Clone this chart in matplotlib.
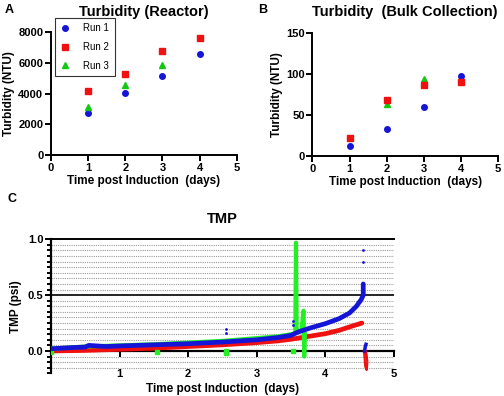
import numpy as np
import matplotlib
matplotlib.use("Agg")
import matplotlib.pyplot as plt
from matplotlib.ticker import MultipleLocator

plt.rcParams['font.family'] = ['Liberation Sans', 'DejaVu Sans']
plt.rcParams['font.weight'] = 'bold'

# --- panel A: reactor turbidity (NTU)
days = [1, 2, 3, 4]
reactor_run1 = [2720, 4020, 5170, 6610]
reactor_run2 = [4170, 5260, 6780, 7650]
reactor_run3 = [3110, 4560, 5850]

# --- panel B: bulk collection turbidity (NTU)
bulk_run1 = [11.8, 33, 59.5, 97.8]
bulk_run2 = [22, 68.5, 86.4, 89.7]
bulk_days3 = [2, 3]
bulk_run3 = [63.2, 93.8]

# --- panel C: TMP (psi)
blue_t = [0.0, 0.3, 0.5, 0.55, 0.8, 1.0, 1.5, 2.0, 2.5, 3.0, 3.3, 3.5, 3.6, 3.8,
          4.0, 4.2, 4.35, 4.45, 4.52, 4.55, 4.55]
blue_v = [0.02, 0.03, 0.035, 0.05, 0.04, 0.045, 0.055, 0.065, 0.08, 0.10, 0.12,
          0.14, 0.17, 0.21, 0.245, 0.29, 0.34, 0.40, 0.46, 0.50, 0.60]
blue_tail_t = [4.57, 4.58, 4.59]
blue_tail_v = [0.0, 0.04, 0.06]
blue_dots_t = [4.55, 4.55, 2.55, 2.55, 3.53, 3.53]
blue_dots_v = [0.90, 0.80, 0.20, 0.16, 0.27, 0.23]

red_t = [0.0, 0.5, 1.0, 1.5, 2.0, 2.5, 3.0, 3.3, 3.5, 3.7, 4.0, 4.2, 4.4, 4.53]
red_v = [0.0, 0.005, 0.015, 0.025, 0.04, 0.055, 0.075, 0.09, 0.105, 0.125, 0.155,
         0.185, 0.225, 0.25]
red_loop_t = [4.56, 4.57, 4.58, 4.60, 4.61, 4.60, 4.59]
red_loop_v = [0.0, -0.06, -0.14, -0.17, -0.10, -0.04, 0.0]

green_t = [0.0, 0.5, 1.0, 1.5, 2.0, 2.5, 3.0, 3.3, 3.5, 3.56, 3.57, 3.58, 3.6,
           3.65, 3.68, 3.69, 3.70]
green_v = [0.02, 0.04, 0.05, 0.06, 0.075, 0.09, 0.115, 0.13, 0.15, 0.16, 0.97,
           0.20, 0.17, 0.18, 0.36, -0.05, 0.15]
green_dots_t = [2.55, 2.55, 1.55, 0.0, 3.53]
green_dots_v = [-0.02, 0.0, -0.01, -0.01, 0.0]

blue = '#1515d8'
red = '#f01010'
green = '#12c812'
lime = '#22f022'

fig = plt.figure(figsize=(5.04, 3.96), dpi=100)


def style_axes(ax):
    for s in ['top', 'right']:
        ax.spines[s].set_visible(False)
    for s in ['left', 'bottom']:
        ax.spines[s].set_linewidth(1.4)
    ax.tick_params(width=1.4, length=4, labelsize=8, pad=1.5)
    for lab in ax.get_xticklabels() + ax.get_yticklabels():
        lab.set_fontweight('bold')


# Panel A
axA = fig.add_axes([0.101, 0.6086, 0.369, 0.310])
axA.plot(days, reactor_run1, 'o', color=blue, ms=4, label='Run 1', clip_on=False)
axA.plot(days, reactor_run2, 's', color=red, ms=4.5, label='Run 2', clip_on=False)
axA.plot(days[:3], reactor_run3, '^', color=green, ms=4.5, label='Run 3', clip_on=False)
axA.set_xlim(0, 5)
axA.set_ylim(0, 8000)
axA.set_xticks([0, 1, 2, 3, 4, 5])
axA.set_yticks([0, 2000, 4000, 6000, 8000])
style_axes(axA)
axA.set_title('Turbidity (Reactor)', fontsize=10.5, fontweight='bold', pad=12)
axA.set_xlabel('Time post Induction  (days)', fontsize=8.5, fontweight='bold', labelpad=2)
axA.set_ylabel('Turbidity (NTU)', fontsize=8.5, fontweight='bold', labelpad=2)
leg = axA.legend(loc='upper left', bbox_to_anchor=(0.02, 1.117), borderaxespad=0,
                 prop={'weight': 'normal', 'size': 7}, frameon=True, fancybox=False,
                 borderpad=0.55, labelspacing=0.9, handlelength=1.0, handletextpad=1.4)
leg.get_frame().set_edgecolor('black')
leg.get_frame().set_linewidth(0.8)

# Panel B
axB = fig.add_axes([0.620, 0.606, 0.368, 0.311])
axB.plot(days, bulk_run1, 'o', color=blue, ms=4, clip_on=False)
axB.plot(bulk_days3, bulk_run3, '^', color=green, ms=4.5, clip_on=False)
axB.plot(days, bulk_run2, 's', color=red, ms=4.5, clip_on=False)
axB.set_xlim(0, 5)
axB.set_ylim(0, 150)
axB.set_xticks([0, 1, 2, 3, 4, 5])
axB.set_yticks([0, 50, 100, 150])
style_axes(axB)
axB.set_title('Turbidity  (Bulk Collection)', fontsize=10.5, fontweight='bold', pad=12)
axB.set_xlabel('Time post Induction  (days)', fontsize=8.5, fontweight='bold', labelpad=2)
axB.set_ylabel('Turbidity (NTU)', fontsize=8.5, fontweight='bold', labelpad=2)

# Panel C
axC = fig.add_axes([0.101, 0.0573, 0.681, 0.3384])
axC.set_xlim(0, 5)
axC.set_ylim(-0.2, 1.0)
for yv in np.arange(-0.15, 1.0, 0.05):
    if abs(yv) < 1e-6 or abs(yv - 0.5) < 1e-6:
        continue
    axC.axhline(yv, color='#9a9a9a', lw=0.8, ls=(0, (1, 1)), zorder=0)
axC.axhline(0.5, color='black', lw=1.2, zorder=1)
axC.axhline(1.0, color='black', lw=1.4, zorder=1, clip_on=False)

axC.plot(red_t, red_v, '-', color=red, lw=3.4, solid_capstyle='round', zorder=3)
axC.plot(red_loop_t, red_loop_v, '-', color=red, lw=1.6, zorder=3)
axC.plot(green_t, green_v, '-', color=lime, lw=3.0, zorder=4)
axC.plot(green_dots_t, green_dots_v, 's', color=lime, ms=3, zorder=4)
axC.plot(blue_t, blue_v, '-', color=blue, lw=3.4, solid_capstyle='round', zorder=5)
axC.plot(blue_tail_t, blue_tail_v, '-', color=blue, lw=2.5, zorder=5)
axC.plot(blue_dots_t, blue_dots_v, '.', color=blue, ms=2, zorder=5)

axC.spines['top'].set_visible(False)
axC.spines['right'].set_visible(False)
axC.spines['bottom'].set_position(('data', 0))
axC.spines['bottom'].set_linewidth(1.6)
axC.spines['left'].set_linewidth(1.6)
axC.set_xticks([1, 2, 3, 4, 5])
axC.set_yticks([0.0, 0.5, 1.0])
axC.set_yticklabels(['0.0', '0.5', '1.0'])
axC.yaxis.set_minor_locator(MultipleLocator(0.05))
axC.tick_params(axis='both', which='major', width=1.4, length=4, labelsize=8, pad=1.5)
axC.tick_params(axis='y', which='minor', width=1.4, length=3)
axC.tick_params(axis='x', which='major', pad=9)
for lab in axC.get_xticklabels() + axC.get_yticklabels():
    lab.set_fontweight('bold')
axC.set_title('TMP', fontsize=10.5, fontweight='bold', pad=12)
axC.set_ylabel('TMP (psi)', fontsize=8.5, fontweight='bold', labelpad=4)
axC.set_xlabel('Time post Induction  (days)', fontsize=8.5, fontweight='bold', labelpad=3)

# panel letters
fig.text(0.010, 0.975, 'A', fontsize=9, fontweight='bold', va='center')
fig.text(0.513, 0.975, 'B', fontsize=9, fontweight='bold', va='center')
fig.text(0.014, 0.497, 'C', fontsize=9, fontweight='bold', va='center')

fig.savefig('out.png', dpi=100)
